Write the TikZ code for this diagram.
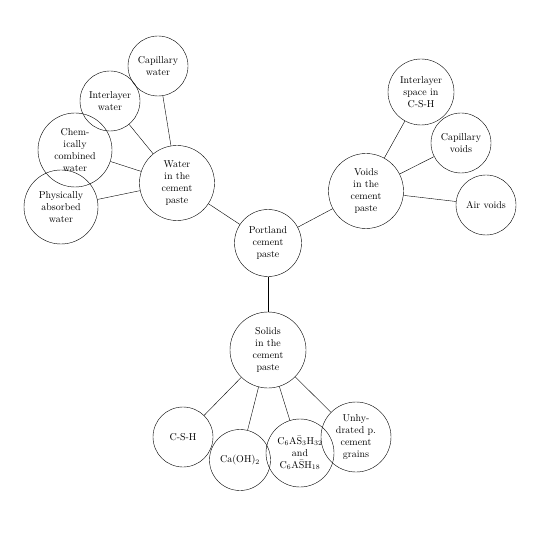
\documentclass[tikz,border=0pt]{standalone}
\usepackage{tikz}

\begin{document}
\begin{tikzpicture}[x=1pt, y=-1pt,
        bubble/.style={circle, draw, align=center, inner sep=0pt}]

        \useasboundingbox (0,0) rectangle (540,537);

        % 1. center node
        \node[bubble, minimum size=67pt] (paste) at (268,243) {Portland\\cement\\paste};

        % 2. the three main branches
        \node[bubble, minimum size=75pt] (water)  at (177,183) {Water\\in the\\cement\\paste};
        \node[bubble, minimum size=75pt] (voids)  at (366,191) {Voids\\in the\\cement\\paste};
        \node[bubble, minimum size=76pt] (solids) at (268,350) {Solids\\in the\\cement\\paste};

        \foreach \n in {water, voids, solids} {
            \draw (paste) -- (\n);
        }

        % 3. water in the cement paste
        \node[bubble, minimum size=60pt] (W_capillary)  at (158,66)  {Capillary\\water};
        \node[bubble, minimum size=60pt] (W_interlayer) at (110,101) {Interlayer\\water};
        \node[bubble, minimum size=74pt] (W_chemical)   at (75,150)  {Chem-\\ically\\combined\\water};
        \node[bubble, minimum size=74pt] (W_physical)   at (61,207)  {Physically\\absorbed\\water};

        \foreach \n in {W_capillary, W_interlayer, W_chemical, W_physical} {
            \draw (water) -- (\n);
        }

        % 4. voids in the cement paste
        \node[bubble, minimum size=66pt] (V_interlayer) at (421,92)  {Interlayer\\space in\\C-S-H};
        \node[bubble, minimum size=60pt] (V_capillary)  at (461,143) {Capillary\\voids};
        \node[bubble, minimum size=60pt] (V_air)        at (486,205) {Air voids};

        \foreach \n in {V_interlayer, V_capillary, V_air} {
            \draw (voids) -- (\n);
        }

        % 5. solids in the cement paste
        \node[bubble, minimum size=60pt] (S_csh)       at (183,437) {C-S-H};
        \node[bubble, minimum size=61pt] (S_caoh)      at (240,460) {Ca(OH)$_2$};
        \node[bubble, minimum size=68pt] (S_sulfo)     at (300,453)
            {$\mathrm{C_6A\bar{S}_3H_{32}}$\\and\\$\mathrm{C_6A\bar{S}H_{18}}$};
        \node[bubble, minimum size=70pt] (S_unhydrated) at (356,437) {Unhy-\\drated p.\\cement\\grains};

        \foreach \n in {S_csh, S_caoh, S_sulfo, S_unhydrated} {
            \draw (solids) -- (\n);
        }

    \end{tikzpicture}
\end{document}
